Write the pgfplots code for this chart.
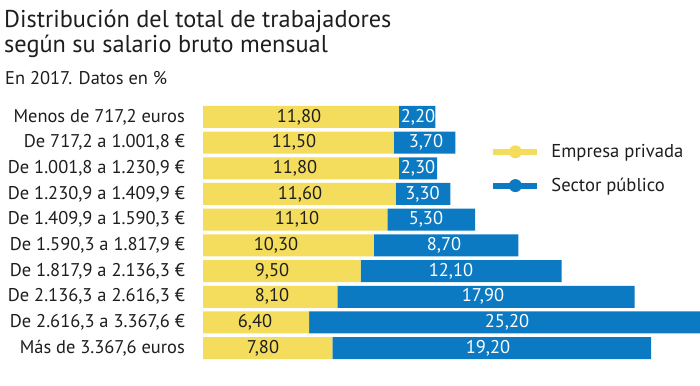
\documentclass[border=0pt]{standalone}
\usepackage{pgfplots}
\pgfplotsset{compat=1.18}
\usepackage{pgfplotstable}
\usepackage{fontspec}
\setmainfont{PT Sans}
\definecolor{yel}{HTML}{F4DD5C}
\definecolor{blu}{HTML}{0B7AC2}
\definecolor{txt}{HTML}{1E1E1E}

\pgfplotstableread{
idx priv pub
0 11.80 2.20
1 11.50 3.70
2 11.80 2.30
3 11.60 3.30
4 11.10 5.30
5 10.30 8.70
6 9.50 12.10
7 8.10 17.90
8 6.40 25.20
9 7.80 19.20
}\data

\pgfplotstableread{
x y lab
5.78 0 11,80
5.48 1 11,50
5.54 2 11,80
5.84 3 11,60
5.66 4 11,10
4.40 5 10,30
4.16 6 9,50
4.16 7 8,10
3.13 8 6,40
3.61 9 7,80
}\privlab

\pgfplotstableread{
x y lab
12.95 0 2,20
13.43 1 3,70
12.95 2 2,30
13.22 3 3,30
13.43 4 5,30
14.52 5 8,70
14.94 6 12,10
16.87 7 17,90
18.31 8 25,20
17.17 9 19,20
}\publab

\begin{document}
\begin{tikzpicture}
\path[use as bounding box, fill=white] (0,-386bp) rectangle (700bp,0);
\node[anchor=base west, inner sep=0, text=txt, font=\fontsize{24.4}{29}\selectfont] at (4bp,-27bp) {Distribución del total de trabajadores};
\node[anchor=base west, inner sep=0, text=txt, font=\fontsize{24.4}{29}\selectfont] at (4bp,-52bp) {según su salario bruto mensual};
\node[anchor=base west, inner sep=0, text=txt, font=\fontsize{18.5}{22}\selectfont] at (5bp,-84bp) {En 2017. Datos en \%};

\begin{axis}[
  at={(203bp,-104bp)}, anchor=north west,
  scale only axis, width=497bp, height=257bp,
  xbar stacked, bar width=22bp,
  xmin=0, xmax=29.94, ymin=-0.5, ymax=9.5, y dir=reverse,
  axis line style={draw=none}, major tick length=0pt,
  xtick=\empty, ytick={0,...,9},
  yticklabels={{Menos de 717,2 euros},{De 717,2 a 1.001,8 €},{De 1.001,8 a 1.230,9 €},{De 1.230,9 a 1.409,9 €},{De 1.409,9 a 1.590,3 €},{De 1.590,3 a 1.817,9 €},{De 1.817,9 a 2.136,3 €},{De 2.136,3 a 2.616,3 €},{De 2.616,3 a 3.367,6 €},{Más de 3.367,6 euros}},
  yticklabel style={font=\fontsize{18.5}{22}\selectfont, text=txt, inner sep=0pt, xshift=-18bp},
  clip=true,
  legend style={at={(axis cs:17.3,0.99)}, anchor=north west, draw=none, fill=none,
    font=\fontsize{18.7}{22}\selectfont, text=txt, row sep=15bp, inner sep=0pt,
    /tikz/every odd column/.append style={column sep=9bp}},
  legend cell align=left,
]
\addplot[fill=yel, draw=none,
  legend image code/.code={\draw[yel, line width=6bp] (0bp,0bp) -- (44bp,0bp); \fill[yel] (22bp,0bp) circle (6.5bp);}]
  table[x=priv, y=idx] {\data};
\addlegendentry{Empresa privada}
\addplot[fill=blu, draw=none,
  legend image code/.code={\draw[blu, line width=6bp] (0bp,0bp) -- (44bp,0bp); \fill[blu] (22bp,0bp) circle (6.5bp);}]
  table[x=pub, y=idx] {\data};
\addlegendentry{Sector público}
\end{axis}

\begin{axis}[
  at={(203bp,-104bp)}, anchor=north west,
  scale only axis, width=497bp, height=257bp,
  xmin=0, xmax=29.94, ymin=-0.5, ymax=9.5, y dir=reverse,
  hide axis,
]
\addplot[draw=none, mark=none, nodes near coords, point meta=explicit symbolic,
  every node near coord/.append style={anchor=center, font=\fontsize{18.5}{22}\selectfont, text=txt, inner sep=0pt}]
  table[x=x, y=y, meta=lab] {\privlab};
\addplot[draw=none, mark=none, nodes near coords, point meta=explicit symbolic,
  every node near coord/.append style={anchor=center, font=\fontsize{18.5}{22}\selectfont, text=white, inner sep=0pt}]
  table[x=x, y=y, meta=lab] {\publab};
\end{axis}
\end{tikzpicture}
\end{document}
